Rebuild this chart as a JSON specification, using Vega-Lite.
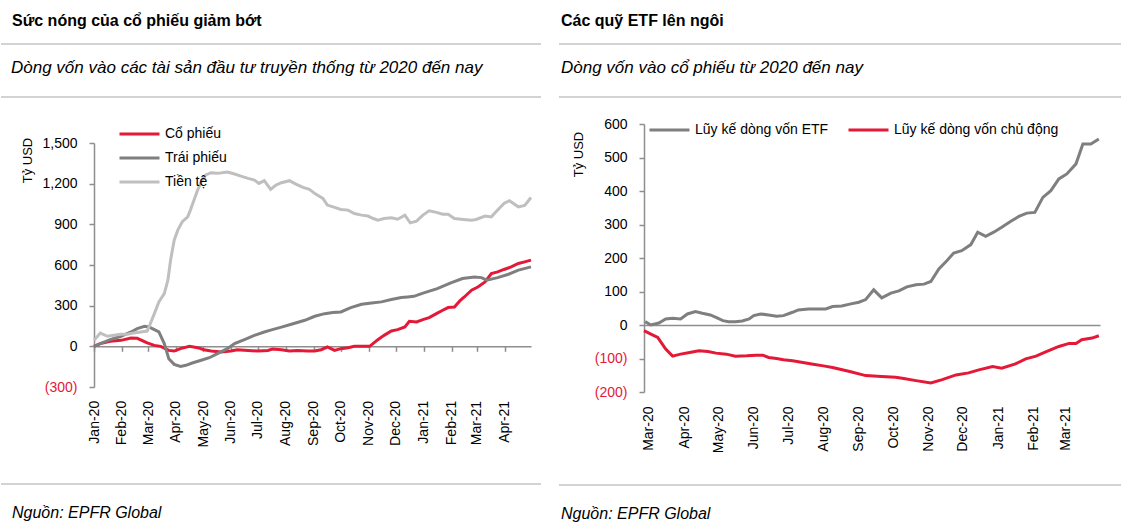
{
  "$schema": "https://vega.github.io/schema/vega-lite/v6.json",
  "padding": 0,
  "background": "white",
  "config": {
    "view": {"stroke": null},
    "font": "Liberation Sans",
    "axis": {"grid": false, "labelFontSize": 14, "labelColor": "#000", "domainColor": "#8e8e8e", "tickColor": "#8e8e8e", "domainWidth": 1.5, "tickWidth": 1.5}
  },
  "resolve": {"scale": {"color": "independent"}, "legend": {"color": "independent"}},
  "spacing": 16,
  "hconcat": [
    {
      "spacing": 0,
      "resolve": {"scale": {"color": "independent"}, "legend": {"color": "independent"}},
      "vconcat": [
        {
          "width": 437, "height": 122,
          "data": {"values": [{}]},
          "layer": [
            {"mark": {"type": "text", "text": "Sức nóng của cổ phiếu giảm bớt", "align": "left", "baseline": "alphabetic", "dx": 11, "fontSize": 16, "fontWeight": "bold", "color": "#000"},
             "encoding": {"x": {"datum": 0, "type": "quantitative", "scale": {"domain": [0, 1], "range": [-93, 447], "nice": false}, "axis": null}, "y": {"datum": 26, "type": "quantitative", "scale": {"domain": [0, 122], "reverse": true, "nice": false}, "axis": null}}},
            {"mark": {"type": "rule", "color": "#c4c4c4", "strokeWidth": 1.5},
             "encoding": {"x": {"datum": 0, "type": "quantitative"}, "x2": {"datum": 1}, "y": {"datum": 44, "type": "quantitative"}}},
            {"mark": {"type": "text", "text": "Dòng vốn vào các tài sản đầu tư truyền thống từ 2020 đến nay", "align": "left", "baseline": "alphabetic", "dx": 10, "fontSize": 17, "fontStyle": "italic", "color": "#000"},
             "encoding": {"x": {"datum": 0, "type": "quantitative"}, "y": {"datum": 73, "type": "quantitative"}}},
            {"mark": {"type": "rule", "color": "#c4c4c4", "strokeWidth": 1.5},
             "encoding": {"x": {"datum": 0, "type": "quantitative"}, "x2": {"datum": 1}, "y": {"datum": 97, "type": "quantitative"}}}
          ]
        },
        {
          "width": 437, "height": 244,
          "data": {"values": [
            {"date": "2020-01-01", "series": "Cổ phiếu", "value": 0},
            {"date": "2020-01-08", "series": "Cổ phiếu", "value": 20},
            {"date": "2020-01-19", "series": "Cổ phiếu", "value": 37},
            {"date": "2020-01-31", "series": "Cổ phiếu", "value": 44},
            {"date": "2020-02-11", "series": "Cổ phiếu", "value": 62},
            {"date": "2020-02-18", "series": "Cổ phiếu", "value": 59},
            {"date": "2020-02-29", "series": "Cổ phiếu", "value": 25},
            {"date": "2020-03-08", "series": "Cổ phiếu", "value": 7},
            {"date": "2020-03-15", "series": "Cổ phiếu", "value": 0},
            {"date": "2020-03-24", "series": "Cổ phiếu", "value": -30},
            {"date": "2020-03-30", "series": "Cổ phiếu", "value": -35},
            {"date": "2020-04-06", "series": "Cổ phiếu", "value": -17},
            {"date": "2020-04-16", "series": "Cổ phiếu", "value": 0},
            {"date": "2020-04-25", "series": "Cổ phiếu", "value": -10},
            {"date": "2020-05-02", "series": "Cổ phiếu", "value": -25},
            {"date": "2020-05-10", "series": "Cổ phiếu", "value": -35},
            {"date": "2020-05-21", "series": "Cổ phiếu", "value": -42},
            {"date": "2020-06-01", "series": "Cổ phiếu", "value": -35},
            {"date": "2020-06-08", "series": "Cổ phiếu", "value": -25},
            {"date": "2020-06-20", "series": "Cổ phiếu", "value": -30},
            {"date": "2020-07-01", "series": "Cổ phiếu", "value": -35},
            {"date": "2020-07-12", "series": "Cổ phiếu", "value": -30},
            {"date": "2020-07-17", "series": "Cổ phiếu", "value": -20},
            {"date": "2020-07-27", "series": "Cổ phiếu", "value": -25},
            {"date": "2020-08-05", "series": "Cổ phiếu", "value": -35},
            {"date": "2020-08-14", "series": "Cổ phiếu", "value": -30},
            {"date": "2020-08-25", "series": "Cổ phiếu", "value": -35},
            {"date": "2020-09-02", "series": "Cổ phiếu", "value": -35},
            {"date": "2020-09-09", "series": "Cổ phiếu", "value": -25},
            {"date": "2020-09-16", "series": "Cổ phiếu", "value": -5},
            {"date": "2020-09-24", "series": "Cổ phiếu", "value": -30},
            {"date": "2020-10-01", "series": "Cổ phiếu", "value": -17},
            {"date": "2020-10-09", "series": "Cổ phiếu", "value": -10},
            {"date": "2020-10-16", "series": "Cổ phiếu", "value": 0},
            {"date": "2020-10-24", "series": "Cổ phiếu", "value": 0},
            {"date": "2020-11-02", "series": "Cổ phiếu", "value": 0},
            {"date": "2020-11-11", "series": "Cổ phiếu", "value": 49},
            {"date": "2020-11-18", "series": "Cổ phiếu", "value": 81},
            {"date": "2020-11-26", "series": "Cổ phiếu", "value": 113},
            {"date": "2020-12-03", "series": "Cổ phiếu", "value": 123},
            {"date": "2020-12-11", "series": "Cổ phiếu", "value": 143},
            {"date": "2020-12-16", "series": "Cổ phiếu", "value": 185},
            {"date": "2020-12-24", "series": "Cổ phiếu", "value": 180},
            {"date": "2020-12-31", "series": "Cổ phiếu", "value": 197},
            {"date": "2021-01-07", "series": "Cổ phiếu", "value": 212},
            {"date": "2021-01-15", "series": "Cổ phiếu", "value": 241},
            {"date": "2021-01-22", "series": "Cổ phiếu", "value": 266},
            {"date": "2021-01-28", "series": "Cổ phiếu", "value": 286},
            {"date": "2021-02-04", "series": "Cổ phiếu", "value": 290},
            {"date": "2021-02-10", "series": "Cổ phiếu", "value": 335},
            {"date": "2021-02-15", "series": "Cổ phiếu", "value": 364},
            {"date": "2021-02-23", "series": "Cổ phiếu", "value": 414},
            {"date": "2021-03-02", "series": "Cổ phiếu", "value": 438},
            {"date": "2021-03-10", "series": "Cổ phiếu", "value": 475},
            {"date": "2021-03-17", "series": "Cổ phiếu", "value": 537},
            {"date": "2021-03-24", "series": "Cổ phiếu", "value": 549},
            {"date": "2021-03-31", "series": "Cổ phiếu", "value": 567},
            {"date": "2021-04-08", "series": "Cổ phiếu", "value": 586},
            {"date": "2021-04-16", "series": "Cổ phiếu", "value": 611},
            {"date": "2021-04-23", "series": "Cổ phiếu", "value": 623},
            {"date": "2021-04-30", "series": "Cổ phiếu", "value": 636},

            {"date": "2020-01-01", "series": "Trái phiếu", "value": 0},
            {"date": "2020-01-08", "series": "Trái phiếu", "value": 20},
            {"date": "2020-01-19", "series": "Trái phiếu", "value": 50},
            {"date": "2020-01-31", "series": "Trái phiếu", "value": 74},
            {"date": "2020-02-11", "series": "Trái phiếu", "value": 106},
            {"date": "2020-02-18", "series": "Trái phiếu", "value": 131},
            {"date": "2020-02-26", "series": "Trái phiếu", "value": 148},
            {"date": "2020-03-02", "series": "Trái phiếu", "value": 143},
            {"date": "2020-03-08", "series": "Trái phiếu", "value": 123},
            {"date": "2020-03-13", "series": "Trái phiếu", "value": 106},
            {"date": "2020-03-19", "series": "Trái phiếu", "value": 20},
            {"date": "2020-03-24", "series": "Trái phiếu", "value": -91},
            {"date": "2020-03-30", "series": "Trái phiếu", "value": -133},
            {"date": "2020-04-06", "series": "Trái phiếu", "value": -148},
            {"date": "2020-04-12", "series": "Trái phiếu", "value": -140},
            {"date": "2020-04-19", "series": "Trái phiếu", "value": -123},
            {"date": "2020-04-29", "series": "Trái phiếu", "value": -103},
            {"date": "2020-05-08", "series": "Trái phiếu", "value": -84},
            {"date": "2020-05-17", "series": "Trái phiếu", "value": -54},
            {"date": "2020-05-28", "series": "Trái phiếu", "value": -17},
            {"date": "2020-06-05", "series": "Trái phiếu", "value": 20},
            {"date": "2020-06-16", "series": "Trái phiếu", "value": 50},
            {"date": "2020-06-27", "series": "Trái phiếu", "value": 81},
            {"date": "2020-07-08", "series": "Trái phiếu", "value": 106},
            {"date": "2020-07-15", "series": "Trái phiếu", "value": 120},
            {"date": "2020-07-27", "series": "Trái phiếu", "value": 142},
            {"date": "2020-08-07", "series": "Trái phiếu", "value": 163},
            {"date": "2020-08-22", "series": "Trái phiếu", "value": 192},
            {"date": "2020-09-02", "series": "Trái phiếu", "value": 222},
            {"date": "2020-09-13", "series": "Trái phiếu", "value": 241},
            {"date": "2020-09-22", "series": "Trái phiếu", "value": 249},
            {"date": "2020-10-01", "series": "Trái phiếu", "value": 254},
            {"date": "2020-10-12", "series": "Trái phiếu", "value": 286},
            {"date": "2020-10-24", "series": "Trái phiếu", "value": 310},
            {"date": "2020-11-04", "series": "Trái phiếu", "value": 320},
            {"date": "2020-11-15", "series": "Trái phiếu", "value": 328},
            {"date": "2020-11-26", "series": "Trái phiếu", "value": 345},
            {"date": "2020-12-07", "series": "Trái phiếu", "value": 360},
            {"date": "2020-12-14", "series": "Trái phiếu", "value": 364},
            {"date": "2020-12-21", "series": "Trái phiếu", "value": 369},
            {"date": "2021-01-01", "series": "Trái phiếu", "value": 394},
            {"date": "2021-01-16", "series": "Trái phiếu", "value": 426},
            {"date": "2021-01-31", "series": "Trái phiếu", "value": 468},
            {"date": "2021-02-13", "series": "Trái phiếu", "value": 500},
            {"date": "2021-02-26", "series": "Trái phiếu", "value": 512},
            {"date": "2021-03-06", "series": "Trái phiếu", "value": 507},
            {"date": "2021-03-12", "series": "Trái phiếu", "value": 488},
            {"date": "2021-03-24", "series": "Trái phiếu", "value": 507},
            {"date": "2021-04-05", "series": "Trái phiếu", "value": 532},
            {"date": "2021-04-16", "series": "Trái phiếu", "value": 562},
            {"date": "2021-04-30", "series": "Trái phiếu", "value": 586},

            {"date": "2020-01-01", "series": "Tiền tệ", "value": 44},
            {"date": "2020-01-08", "series": "Tiền tệ", "value": 98},
            {"date": "2020-01-16", "series": "Tiền tệ", "value": 74},
            {"date": "2020-01-23", "series": "Tiền tệ", "value": 81},
            {"date": "2020-01-31", "series": "Tiền tệ", "value": 89},
            {"date": "2020-02-07", "series": "Tiền tệ", "value": 89},
            {"date": "2020-02-14", "series": "Tiền tệ", "value": 98},
            {"date": "2020-02-22", "series": "Tiền tệ", "value": 106},
            {"date": "2020-02-29", "series": "Tiền tệ", "value": 113},
            {"date": "2020-03-02", "series": "Tiền tệ", "value": 143},
            {"date": "2020-03-08", "series": "Tiền tệ", "value": 241},
            {"date": "2020-03-13", "series": "Tiền tệ", "value": 328},
            {"date": "2020-03-19", "series": "Tiền tệ", "value": 389},
            {"date": "2020-03-23", "series": "Tiền tệ", "value": 488},
            {"date": "2020-03-26", "series": "Tiền tệ", "value": 636},
            {"date": "2020-03-30", "series": "Tiền tệ", "value": 783},
            {"date": "2020-04-03", "series": "Tiền tệ", "value": 857},
            {"date": "2020-04-08", "series": "Tiền tệ", "value": 919},
            {"date": "2020-04-14", "series": "Tiền tệ", "value": 955},
            {"date": "2020-04-17", "series": "Tiền tệ", "value": 1005},
            {"date": "2020-04-21", "series": "Tiền tệ", "value": 1079},
            {"date": "2020-04-25", "series": "Tiền tệ", "value": 1153},
            {"date": "2020-04-29", "series": "Tiền tệ", "value": 1214},
            {"date": "2020-05-04", "series": "Tiền tệ", "value": 1264},
            {"date": "2020-05-10", "series": "Tiền tệ", "value": 1281},
            {"date": "2020-05-17", "series": "Tiền tệ", "value": 1276},
            {"date": "2020-05-28", "series": "Tiền tệ", "value": 1286},
            {"date": "2020-06-05", "series": "Tiền tệ", "value": 1271},
            {"date": "2020-06-12", "series": "Tiền tệ", "value": 1256},
            {"date": "2020-06-20", "series": "Tiền tệ", "value": 1239},
            {"date": "2020-06-27", "series": "Tiền tệ", "value": 1227},
            {"date": "2020-07-02", "series": "Tiền tệ", "value": 1202},
            {"date": "2020-07-08", "series": "Tiền tệ", "value": 1222},
            {"date": "2020-07-15", "series": "Tiền tệ", "value": 1158},
            {"date": "2020-07-21", "series": "Tiền tệ", "value": 1190},
            {"date": "2020-07-27", "series": "Tiền tệ", "value": 1207},
            {"date": "2020-08-05", "series": "Tiền tệ", "value": 1222},
            {"date": "2020-08-12", "series": "Tiền tệ", "value": 1197},
            {"date": "2020-08-20", "series": "Tiền tệ", "value": 1172},
            {"date": "2020-08-27", "series": "Tiền tệ", "value": 1158},
            {"date": "2020-09-03", "series": "Tiền tệ", "value": 1123},
            {"date": "2020-09-11", "series": "Tiền tệ", "value": 1091},
            {"date": "2020-09-16", "series": "Tiền tệ", "value": 1042},
            {"date": "2020-09-24", "series": "Tiền tệ", "value": 1025},
            {"date": "2020-10-01", "series": "Tiền tệ", "value": 1010},
            {"date": "2020-10-09", "series": "Tiền tệ", "value": 1005},
            {"date": "2020-10-16", "series": "Tiền tệ", "value": 980},
            {"date": "2020-10-24", "series": "Tiền tệ", "value": 968},
            {"date": "2020-10-31", "series": "Tiền tệ", "value": 961},
            {"date": "2020-11-06", "series": "Tiền tệ", "value": 943},
            {"date": "2020-11-11", "series": "Tiền tệ", "value": 931},
            {"date": "2020-11-18", "series": "Tiền tệ", "value": 943},
            {"date": "2020-11-26", "series": "Tiền tệ", "value": 948},
            {"date": "2020-12-03", "series": "Tiền tệ", "value": 938},
            {"date": "2020-12-11", "series": "Tiền tệ", "value": 968},
            {"date": "2020-12-17", "series": "Tiền tệ", "value": 911},
            {"date": "2020-12-24", "series": "Tiền tệ", "value": 924},
            {"date": "2020-12-31", "series": "Tiền tệ", "value": 968},
            {"date": "2021-01-07", "series": "Tiền tệ", "value": 1000},
            {"date": "2021-01-15", "series": "Tiền tệ", "value": 988},
            {"date": "2021-01-22", "series": "Tiền tệ", "value": 975},
            {"date": "2021-01-28", "series": "Tiền tệ", "value": 975},
            {"date": "2021-02-04", "series": "Tiền tệ", "value": 943},
            {"date": "2021-02-14", "series": "Tiền tệ", "value": 936},
            {"date": "2021-02-23", "series": "Tiền tệ", "value": 931},
            {"date": "2021-02-28", "series": "Tiền tệ", "value": 936},
            {"date": "2021-03-10", "series": "Tiền tệ", "value": 961},
            {"date": "2021-03-17", "series": "Tiền tệ", "value": 955},
            {"date": "2021-03-24", "series": "Tiền tệ", "value": 1005},
            {"date": "2021-03-31", "series": "Tiền tệ", "value": 1054},
            {"date": "2021-04-06", "series": "Tiền tệ", "value": 1074},
            {"date": "2021-04-16", "series": "Tiền tệ", "value": 1029},
            {"date": "2021-04-23", "series": "Tiền tệ", "value": 1039},
            {"date": "2021-04-30", "series": "Tiền tệ", "value": 1098}
          ]},
          "mark": {"type": "line", "strokeWidth": 3},
          "encoding": {
            "x": {"field": "date", "type": "temporal",
                  "scale": {"type": "utc", "domain": [{"year": 2020, "month": 1, "date": 1, "utc": true}, {"year": 2021, "month": 4, "date": 30, "utc": true}]},
                  "axis": {"title": null, "labelExpr": "utcFormat(datum.value, '%b-%y')", "tickCount": {"interval": "month", "step": 1}, "labelAngle": -90, "labelAlign": "right", "labelBaseline": "middle", "labelFlush": false, "labelOverlap": false, "offset": -40.67, "tickSize": 5, "labelPadding": 49}},
            "y": {"field": "value", "type": "quantitative",
                  "scale": {"domain": [-300, 1500], "nice": false},
                  "axis": {"title": "Tỷ USD", "values": [-300, 0, 300, 600, 900, 1200, 1500],
                           "labelExpr": "datum.value < 0 ? '(' + format(-datum.value, ',') + ')' : format(datum.value, ',')",
                           "labelColor": {"condition": {"test": "datum.value < 0", "value": "#e31937"}, "value": "#000"},
                           "tickSize": 5, "labelPadding": 12, "minExtent": 93,
                           "titleX": -67, "titleY": 17, "titleAngle": -90, "titleAlign": "center", "titleBaseline": "middle", "titleFontWeight": "normal", "titleFontSize": 13, "titleColor": "#000"}},
            "color": {"field": "series", "type": "nominal",
                      "scale": {"domain": ["Cổ phiếu", "Trái phiếu", "Tiền tệ"], "range": ["#e31937", "#7f7f7f", "#bfbfbf"]},
                      "legend": {"orient": "none", "legendX": 24, "legendY": -21, "title": null, "symbolType": "stroke", "symbolSize": 1600, "symbolStrokeWidth": 3, "labelFontSize": 14, "labelColor": "#000", "clipHeight": 24, "rowPadding": 0, "labelOffset": 4}}
          }
        },
        {
          "width": 437, "height": 81,
          "data": {"values": [{}]},
          "layer": [
            {"mark": {"type": "rule", "color": "#c4c4c4", "strokeWidth": 1.5},
             "encoding": {"x": {"datum": 0, "type": "quantitative", "scale": {"domain": [0, 1], "range": [-93, 447], "nice": false}, "axis": null}, "x2": {"datum": 1}, "y": {"datum": 36, "type": "quantitative", "scale": {"domain": [0, 81], "reverse": true, "nice": false}, "axis": null}}},
            {"mark": {"type": "text", "text": "Nguồn: EPFR Global", "align": "left", "baseline": "alphabetic", "dx": 11, "fontSize": 16, "fontStyle": "italic", "color": "#000"},
             "encoding": {"x": {"datum": 0, "type": "quantitative"}, "y": {"datum": 70, "type": "quantitative"}}}
          ]
        }
      ]
    },
    {
      "spacing": 0,
      "resolve": {"scale": {"color": "independent"}, "legend": {"color": "independent"}},
      "vconcat": [
        {
          "width": 456, "height": 117,
          "data": {"values": [{}]},
          "layer": [
            {"mark": {"type": "text", "text": "Các quỹ ETF lên ngôi", "align": "left", "baseline": "alphabetic", "dx": 2, "fontSize": 16, "fontWeight": "bold", "color": "#000"},
             "encoding": {"x": {"datum": 0, "type": "quantitative", "scale": {"domain": [0, 1], "range": [-85, 480], "nice": false}, "axis": null}, "y": {"datum": 26, "type": "quantitative", "scale": {"domain": [0, 117], "reverse": true, "nice": false}, "axis": null}}},
            {"mark": {"type": "rule", "color": "#c4c4c4", "strokeWidth": 1.5},
             "encoding": {"x": {"datum": 0, "type": "quantitative"}, "x2": {"datum": 1}, "y": {"datum": 44, "type": "quantitative"}}},
            {"mark": {"type": "text", "text": "Dòng vốn vào cổ phiếu từ 2020 đến nay", "align": "left", "baseline": "alphabetic", "dx": 2, "fontSize": 17, "fontStyle": "italic", "color": "#000"},
             "encoding": {"x": {"datum": 0, "type": "quantitative"}, "y": {"datum": 73, "type": "quantitative"}}},
            {"mark": {"type": "rule", "color": "#c4c4c4", "strokeWidth": 1.5},
             "encoding": {"x": {"datum": 0, "type": "quantitative"}, "x2": {"datum": 1}, "y": {"datum": 97, "type": "quantitative"}}}
          ]
        },
        {
          "width": 456, "height": 268,
          "data": {"values": [
            {"date": "2020-02-27", "series": "Lũy kế dòng vốn ETF", "value": 10},
            {"date": "2020-03-03", "series": "Lũy kế dòng vốn ETF", "value": 0},
            {"date": "2020-03-10", "series": "Lũy kế dòng vốn ETF", "value": 6},
            {"date": "2020-03-16", "series": "Lũy kế dòng vốn ETF", "value": 18},
            {"date": "2020-03-22", "series": "Lũy kế dòng vốn ETF", "value": 20},
            {"date": "2020-03-29", "series": "Lũy kế dòng vốn ETF", "value": 18},
            {"date": "2020-04-04", "series": "Lũy kế dòng vốn ETF", "value": 33},
            {"date": "2020-04-11", "series": "Lũy kế dòng vốn ETF", "value": 40},
            {"date": "2020-04-17", "series": "Lũy kế dòng vốn ETF", "value": 35},
            {"date": "2020-04-24", "series": "Lũy kế dòng vốn ETF", "value": 30},
            {"date": "2020-04-29", "series": "Lũy kế dòng vốn ETF", "value": 23},
            {"date": "2020-05-05", "series": "Lũy kế dòng vốn ETF", "value": 13},
            {"date": "2020-05-10", "series": "Lũy kế dòng vốn ETF", "value": 10},
            {"date": "2020-05-16", "series": "Lũy kế dòng vốn ETF", "value": 10},
            {"date": "2020-05-22", "series": "Lũy kế dòng vốn ETF", "value": 12},
            {"date": "2020-05-28", "series": "Lũy kế dòng vốn ETF", "value": 18},
            {"date": "2020-06-01", "series": "Lũy kế dòng vốn ETF", "value": 28},
            {"date": "2020-06-07", "series": "Lũy kế dòng vốn ETF", "value": 33},
            {"date": "2020-06-14", "series": "Lũy kế dòng vốn ETF", "value": 30},
            {"date": "2020-06-21", "series": "Lũy kế dòng vốn ETF", "value": 26},
            {"date": "2020-06-27", "series": "Lũy kế dòng vốn ETF", "value": 28},
            {"date": "2020-07-05", "series": "Lũy kế dòng vốn ETF", "value": 38},
            {"date": "2020-07-10", "series": "Lũy kế dòng vốn ETF", "value": 45},
            {"date": "2020-07-19", "series": "Lũy kế dòng vốn ETF", "value": 48},
            {"date": "2020-07-28", "series": "Lũy kế dòng vốn ETF", "value": 48},
            {"date": "2020-08-03", "series": "Lũy kế dòng vốn ETF", "value": 48},
            {"date": "2020-08-09", "series": "Lũy kế dòng vốn ETF", "value": 55},
            {"date": "2020-08-17", "series": "Lũy kế dòng vốn ETF", "value": 57},
            {"date": "2020-08-25", "series": "Lũy kế dòng vốn ETF", "value": 63},
            {"date": "2020-09-01", "series": "Lũy kế dòng vốn ETF", "value": 68},
            {"date": "2020-09-07", "series": "Lũy kế dòng vốn ETF", "value": 76},
            {"date": "2020-09-14", "series": "Lũy kế dòng vốn ETF", "value": 105},
            {"date": "2020-09-21", "series": "Lũy kế dòng vốn ETF", "value": 81},
            {"date": "2020-09-29", "series": "Lũy kế dòng vốn ETF", "value": 95},
            {"date": "2020-10-06", "series": "Lũy kế dòng vốn ETF", "value": 102},
            {"date": "2020-10-13", "series": "Lũy kế dòng vốn ETF", "value": 114},
            {"date": "2020-10-21", "series": "Lũy kế dòng vốn ETF", "value": 120},
            {"date": "2020-10-28", "series": "Lũy kế dòng vốn ETF", "value": 122},
            {"date": "2020-11-03", "series": "Lũy kế dòng vốn ETF", "value": 130},
            {"date": "2020-11-10", "series": "Lũy kế dòng vốn ETF", "value": 167},
            {"date": "2020-11-17", "series": "Lũy kế dòng vốn ETF", "value": 192},
            {"date": "2020-11-23", "series": "Lũy kế dòng vốn ETF", "value": 215},
            {"date": "2020-11-30", "series": "Lũy kế dòng vốn ETF", "value": 222},
            {"date": "2020-12-08", "series": "Lũy kế dòng vốn ETF", "value": 240},
            {"date": "2020-12-14", "series": "Lũy kế dòng vốn ETF", "value": 277},
            {"date": "2020-12-21", "series": "Lũy kế dòng vốn ETF", "value": 265},
            {"date": "2020-12-28", "series": "Lũy kế dòng vốn ETF", "value": 277},
            {"date": "2021-01-04", "series": "Lũy kế dòng vốn ETF", "value": 292},
            {"date": "2021-01-12", "series": "Lũy kế dòng vốn ETF", "value": 310},
            {"date": "2021-01-19", "series": "Lũy kế dòng vốn ETF", "value": 324},
            {"date": "2021-01-26", "series": "Lũy kế dòng vốn ETF", "value": 334},
            {"date": "2021-02-02", "series": "Lũy kế dòng vốn ETF", "value": 336},
            {"date": "2021-02-09", "series": "Lũy kế dòng vốn ETF", "value": 381},
            {"date": "2021-02-16", "series": "Lũy kế dòng vốn ETF", "value": 401},
            {"date": "2021-02-23", "series": "Lũy kế dòng vốn ETF", "value": 436},
            {"date": "2021-03-02", "series": "Lũy kế dòng vốn ETF", "value": 451},
            {"date": "2021-03-10", "series": "Lũy kế dòng vốn ETF", "value": 481},
            {"date": "2021-03-16", "series": "Lũy kế dòng vốn ETF", "value": 540},
            {"date": "2021-03-23", "series": "Lũy kế dòng vốn ETF", "value": 540},
            {"date": "2021-03-30", "series": "Lũy kế dòng vốn ETF", "value": 555},

            {"date": "2020-02-26", "series": "Lũy kế dòng vốn chủ động", "value": -17},
            {"date": "2020-03-03", "series": "Lũy kế dòng vốn chủ động", "value": -27},
            {"date": "2020-03-09", "series": "Lũy kế dòng vốn chủ động", "value": -37},
            {"date": "2020-03-16", "series": "Lũy kế dòng vốn chủ động", "value": -72},
            {"date": "2020-03-22", "series": "Lũy kế dòng vốn chủ động", "value": -93},
            {"date": "2020-03-29", "series": "Lũy kế dòng vốn chủ động", "value": -87},
            {"date": "2020-04-06", "series": "Lũy kế dòng vốn chủ động", "value": -82},
            {"date": "2020-04-14", "series": "Lũy kế dòng vốn chủ động", "value": -77},
            {"date": "2020-04-22", "series": "Lũy kế dòng vốn chủ động", "value": -79},
            {"date": "2020-04-29", "series": "Lũy kế dòng vốn chủ động", "value": -84},
            {"date": "2020-05-08", "series": "Lũy kế dòng vốn chủ động", "value": -87},
            {"date": "2020-05-16", "series": "Lũy kế dòng vốn chủ động", "value": -93},
            {"date": "2020-05-26", "series": "Lũy kế dòng vốn chủ động", "value": -92},
            {"date": "2020-06-03", "series": "Lũy kế dòng vốn chủ động", "value": -90},
            {"date": "2020-06-09", "series": "Lũy kế dòng vốn chủ động", "value": -90},
            {"date": "2020-06-14", "series": "Lũy kế dòng vốn chủ động", "value": -97},
            {"date": "2020-06-21", "series": "Lũy kế dòng vốn chủ động", "value": -100},
            {"date": "2020-06-27", "series": "Lũy kế dòng vốn chủ động", "value": -104},
            {"date": "2020-07-05", "series": "Lũy kế dòng vốn chủ động", "value": -107},
            {"date": "2020-07-14", "series": "Lũy kế dòng vốn chủ động", "value": -112},
            {"date": "2020-07-23", "series": "Lũy kế dòng vốn chủ động", "value": -117},
            {"date": "2020-08-01", "series": "Lũy kế dòng vốn chủ động", "value": -122},
            {"date": "2020-08-09", "series": "Lũy kế dòng vốn chủ động", "value": -127},
            {"date": "2020-08-24", "series": "Lũy kế dòng vốn chủ động", "value": -139},
            {"date": "2020-09-07", "series": "Lũy kế dòng vốn chủ động", "value": -151},
            {"date": "2020-09-21", "series": "Lũy kế dòng vốn chủ động", "value": -154},
            {"date": "2020-10-03", "series": "Lũy kế dòng vốn chủ động", "value": -156},
            {"date": "2020-10-09", "series": "Lũy kế dòng vốn chủ động", "value": -159},
            {"date": "2020-10-21", "series": "Lũy kế dòng vốn chủ động", "value": -166},
            {"date": "2020-11-03", "series": "Lũy kế dòng vốn chủ động", "value": -173},
            {"date": "2020-11-13", "series": "Lũy kế dòng vốn chủ động", "value": -163},
            {"date": "2020-11-25", "series": "Lũy kế dòng vốn chủ động", "value": -149},
            {"date": "2020-12-06", "series": "Lũy kế dòng vốn chủ động", "value": -143},
            {"date": "2020-12-15", "series": "Lũy kế dòng vốn chủ động", "value": -134},
            {"date": "2020-12-27", "series": "Lũy kế dòng vốn chủ động", "value": -124},
            {"date": "2021-01-04", "series": "Lũy kế dòng vốn chủ động", "value": -129},
            {"date": "2021-01-16", "series": "Lũy kế dòng vốn chủ động", "value": -116},
            {"date": "2021-01-25", "series": "Lũy kế dòng vốn chủ động", "value": -101},
            {"date": "2021-02-03", "series": "Lũy kế dòng vốn chủ động", "value": -93},
            {"date": "2021-02-11", "series": "Lũy kế dòng vốn chủ động", "value": -81},
            {"date": "2021-02-23", "series": "Lũy kế dòng vốn chủ động", "value": -64},
            {"date": "2021-03-04", "series": "Lũy kế dòng vốn chủ động", "value": -55},
            {"date": "2021-03-10", "series": "Lũy kế dòng vốn chủ động", "value": -55},
            {"date": "2021-03-15", "series": "Lũy kế dòng vốn chủ động", "value": -44},
            {"date": "2021-03-24", "series": "Lũy kế dòng vốn chủ động", "value": -39},
            {"date": "2021-03-30", "series": "Lũy kế dòng vốn chủ động", "value": -32}
          ]},
          "mark": {"type": "line", "strokeWidth": 3},
          "encoding": {
            "x": {"field": "date", "type": "temporal",
                  "scale": {"type": "utc", "domain": [{"year": 2020, "month": 2, "date": 26, "utc": true}, {"year": 2021, "month": 3, "date": 31, "utc": true}]},
                  "axis": {"title": null, "labelExpr": "utcFormat(datum.value, '%b-%y')", "tickCount": {"interval": "month", "step": 1}, "labelAngle": -90, "labelAlign": "right", "labelBaseline": "middle", "labelFlush": false, "labelOverlap": false, "offset": -67, "ticks": false, "labelPadding": 81}},
            "y": {"field": "value", "type": "quantitative",
                  "scale": {"domain": [-200, 600], "nice": false},
                  "axis": {"title": "Tỷ USD", "values": [-200, -100, 0, 100, 200, 300, 400, 500, 600],
                           "labelExpr": "datum.value < 0 ? '(' + format(-datum.value, ',') + ')' : format(datum.value, ',')",
                           "labelColor": {"condition": {"test": "datum.value < 0", "value": "#e31937"}, "value": "#000"},
                           "tickSize": 5, "labelPadding": 12, "minExtent": 85,
                           "titleX": -66, "titleY": 30, "titleAngle": -90, "titleAlign": "center", "titleBaseline": "middle", "titleFontWeight": "normal", "titleFontSize": 13, "titleColor": "#000"}},
            "color": {"field": "series", "type": "nominal",
                      "scale": {"domain": ["Lũy kế dòng vốn ETF", "Lũy kế dòng vốn chủ động"], "range": ["#7f7f7f", "#e31937"]},
                      "legend": {"orient": "none", "direction": "horizontal", "legendX": 4, "legendY": -6, "title": null, "symbolType": "stroke", "symbolSize": 1600, "symbolStrokeWidth": 3, "labelFontSize": 14, "labelColor": "#000", "clipHeight": 24, "columnPadding": 18, "labelOffset": 4, "labelLimit": 300}}
          }
        },
        {
          "width": 456, "height": 77,
          "data": {"values": [{}]},
          "layer": [
            {"mark": {"type": "rule", "color": "#c4c4c4", "strokeWidth": 1.5},
             "encoding": {"x": {"datum": 0, "type": "quantitative", "scale": {"domain": [0, 1], "range": [-85, 480], "nice": false}, "axis": null}, "x2": {"datum": 1}, "y": {"datum": 32, "type": "quantitative", "scale": {"domain": [0, 77], "reverse": true, "nice": false}, "axis": null}}},
            {"mark": {"type": "text", "text": "Nguồn: EPFR Global", "align": "left", "baseline": "alphabetic", "dx": 2, "fontSize": 16, "fontStyle": "italic", "color": "#000"},
             "encoding": {"x": {"datum": 0, "type": "quantitative"}, "y": {"datum": 66, "type": "quantitative"}}}
          ]
        }
      ]
    }
  ]
}
